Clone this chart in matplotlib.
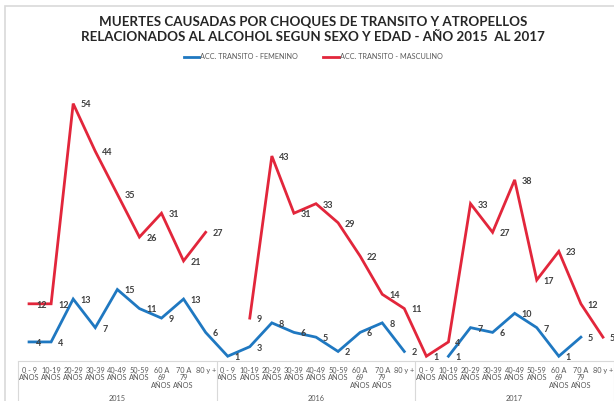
import numpy as np
import matplotlib.pyplot as plt
from matplotlib.patches import Rectangle
from matplotlib.lines import Line2D
from matplotlib.transforms import blended_transform_factory

# ---------------- Data ----------------
years = ["2015", "2016", "2017"]
ages = ["0 - 9\nAÑOS", "10-19\nAÑOS", "20-29\nAÑOS", "30-39\nAÑOS", "40-49\nAÑOS",
        "50-59\nAÑOS", "60 A\n69\nAÑOS", "70 A\n79\nAÑOS", "80 y +"]
nan = np.nan
femenino = [4, 4, 13, 7, 15, 11, 9, 13, 6,
            1, 3, 8, 6, 5, 2, 6, 8, 2,
            nan, 1, 7, 6, 10, 7, 1, 5, nan]
masculino = [12, 12, 54, 44, 35, 26, 31, 21, 27,
             nan, 9, 43, 31, 33, 29, 22, 14, 11,
             1, 4, 33, 27, 38, 17, 23, 12, 5]
label_fem = "ACC. TRANSITO - FEMENINO"
label_mas = "ACC. TRANSITO - MASCULINO"
title = ("MUERTES CAUSADAS POR CHOQUES DE TRANSITO Y ATROPELLOS\n"
         "RELACIONADOS AL ALCOHOL SEGUN SEXO Y EDAD - AÑO 2015  AL 2017")

blue = '#1f78c1'
red = '#e2263b'
plt.rcParams['font.family'] = ['Lato', 'DejaVu Sans']

W, H = 614, 401
fig = plt.figure(figsize=(W / 100, H / 100), dpi=100)
ax = fig.add_axes([18 / W, 40 / H, 596 / W, 286 / H])

x = np.arange(len(femenino))
ax.plot(x, femenino, color=blue, lw=2, solid_joinstyle='miter')
ax.plot(x, masculino, color=red, lw=2, solid_joinstyle='miter')

# data labels, to the right of each point
for series in (femenino, masculino):
    for xs, v in zip(x, series):
        if not np.isnan(v):
            ax.annotate(f"{v:g}", (xs, v), xytext=(5, -1), textcoords='offset points',
                        ha='left', va='center', fontsize=6.5, fontweight='bold',
                        color='#404040', annotation_clip=False)

ax.set_xlim(-0.5, len(x) - 0.5)
ax.set_ylim(0, 60)
ax.set_yticks([])
for s in ['left', 'top', 'right']:
    ax.spines[s].set_visible(False)
ax.spines['bottom'].set_color('#d9d9d9')

# category axis: age groups, then years
ax.set_xticks(x, ages * len(years), fontsize=5.3, color='#595959', linespacing=1.1)
ax.tick_params(axis='x', which='major', length=0, pad=4)
ax.set_xticks(np.arange(-0.5, len(x), len(ages)), minor=True)
ax.tick_params(axis='x', which='minor', length=30, color='#d9d9d9', width=0.8)
trans = blended_transform_factory(ax.transData, ax.transAxes)
for i, yr in enumerate(years):
    ax.text(i * len(ages) + (len(ages) - 1) / 2, -0.13, yr, transform=trans,
            ha='center', va='center', fontsize=5.3, color='#595959')

fig.text(0.51, 0.927, title, ha='center', va='center', fontsize=9.6,
         fontweight='bold', color='#262626', linespacing=1.35)

handles = [Line2D([], [], color=blue, lw=2), Line2D([], [], color=red, lw=2)]
fig.legend(handles, [label_fem, label_mas], loc='center', bbox_to_anchor=(0.51, 0.858),
           ncol=2, frameon=False, fontsize=5.2, handlelength=2.2, handletextpad=0.1,
           columnspacing=3.5, labelcolor='#595959')

fig.add_artist(Rectangle((5 / W, -0.1), 1, (H - 6) / H + 0.1, transform=fig.transFigure,
                         fill=False, ec='#d9d9d9', lw=1.2))

fig.savefig('out.png', dpi=100)
